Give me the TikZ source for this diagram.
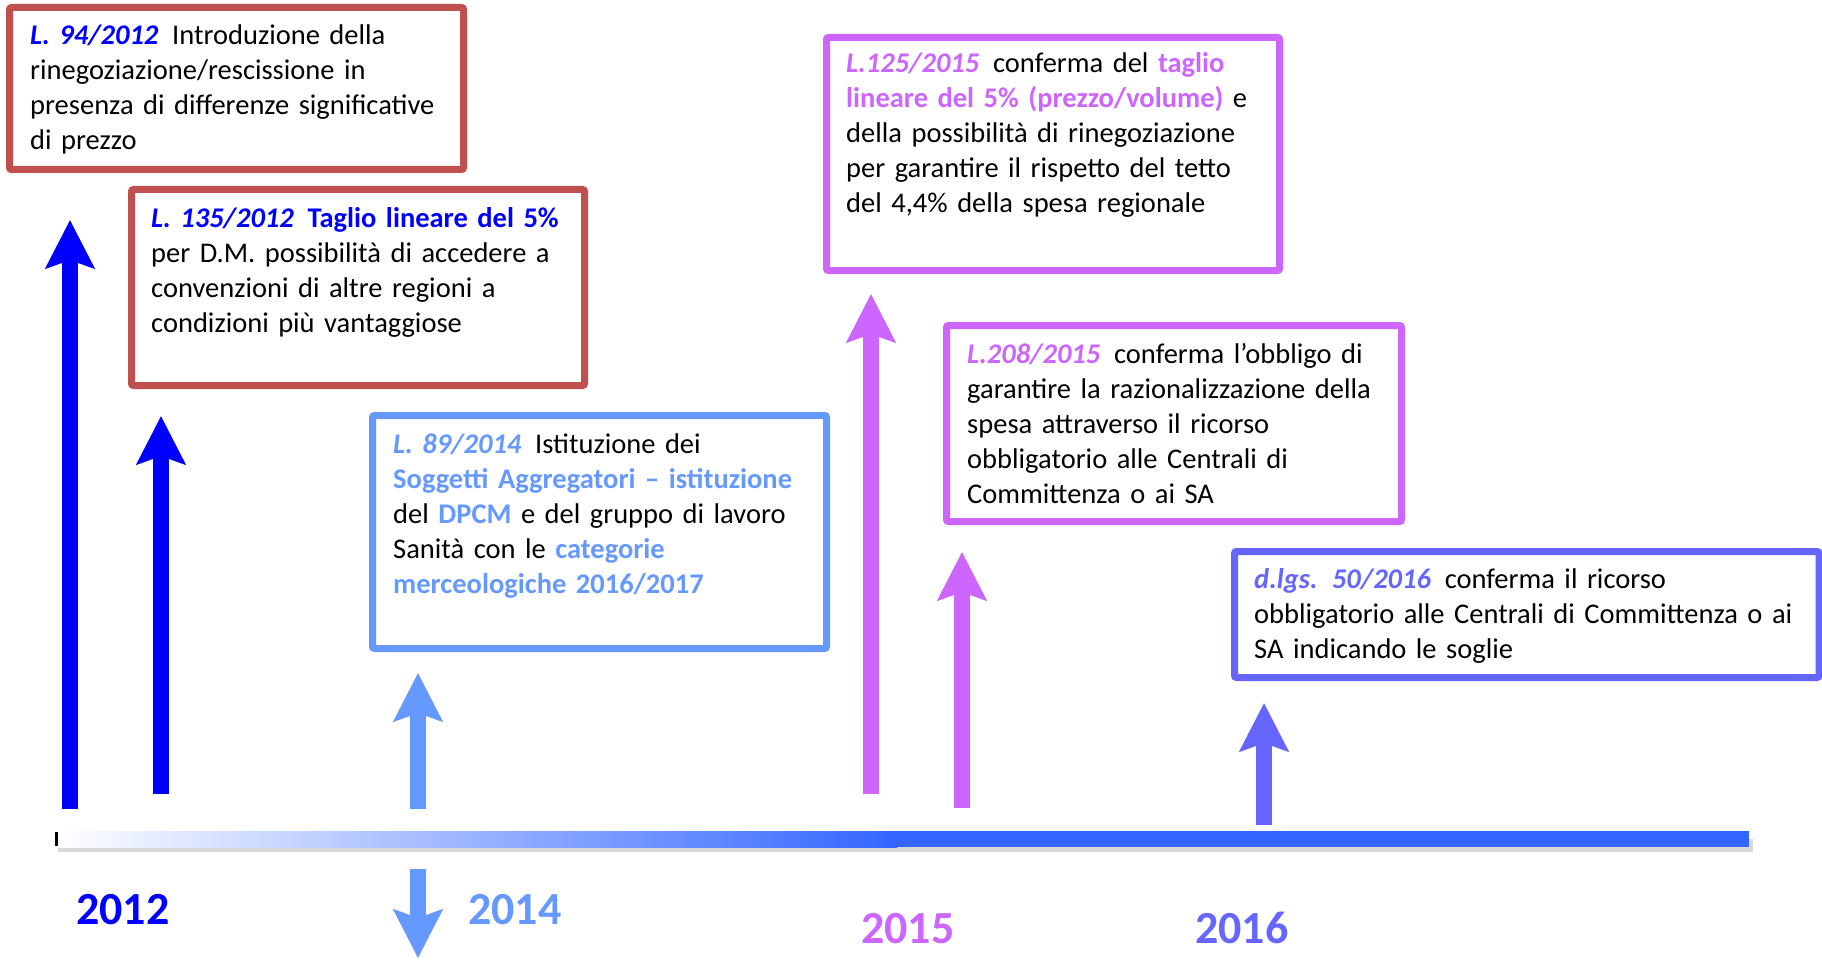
\documentclass[tikz,border=0pt]{standalone}
\usepackage{fontspec}
\setmainfont{Carlito}
\usetikzlibrary{arrows.meta}
\definecolor{boxred}{HTML}{C0504D}
\definecolor{pureblue}{HTML}{0000FF}
\definecolor{lightblue}{HTML}{6699FF}
\definecolor{cviola}{HTML}{CC66FF}
\definecolor{cblu16}{HTML}{6666FF}
\definecolor{tline}{HTML}{3366FF}
\newcommand{\hgap}{\hspace{0.15em} }
\tikzset{
  framebox/.style={line width=7pt, rounded corners=2pt},
  txt/.style={anchor=base west, inner sep=0pt, text width=700pt, align=left,
    font=\fontsize{28.5}{35}\selectfont},
  bigarrow/.style={line width=16pt, -{Stealth[width=48pt,length=48pt,inset=8pt]}},
  arrowshadow/.style={bigarrow, draw=black!14, fill=black!14, shift={(2,4)}},
  yearlbl/.style={anchor=base west, inner sep=0pt, font=\fontsize{46}{50}\selectfont\bfseries},
}
\begin{document}
\begin{tikzpicture}[x=1pt,y=-1pt]
\path[use as bounding box, fill=white] (0,0) rectangle (1822,960);

% arrow coordinates
\coordinate (a1b) at (70,809);   \coordinate (a1t) at (70,220);
\coordinate (a2b) at (161,794);  \coordinate (a2t) at (161,416);
\coordinate (a3b) at (418,809);  \coordinate (a3t) at (418,673);
\coordinate (a4b) at (871,794);  \coordinate (a4t) at (871,294);
\coordinate (a5b) at (962,808);  \coordinate (a5t) at (962,552);
\coordinate (a6b) at (1264,825); \coordinate (a6t) at (1264,703);
\coordinate (a7b) at (418,869);  \coordinate (a7t) at (418,958);

% timeline
\fill[black!15] (58,839) rectangle (1753,852);
\shade[left color=white, right color=tline] (55,831) rectangle (897,847);
\fill[tline] (893,831) rectangle (1749,847);
\fill[black] (55,832) rectangle (58,846);

% arrow shadows
\foreach \p in {a1,a2,a3,a4,a5,a6,a7}{
  \draw[arrowshadow] (\p b) -- (\p t);
}
% arrows
\draw[bigarrow, draw=pureblue, fill=pureblue] (a1b) -- (a1t);
\draw[bigarrow, draw=pureblue, fill=pureblue] (a2b) -- (a2t);
\draw[bigarrow, draw=lightblue, fill=lightblue] (a3b) -- (a3t);
\draw[bigarrow, draw=cviola, fill=cviola] (a4b) -- (a4t);
\draw[bigarrow, draw=cviola, fill=cviola] (a5b) -- (a5t);
\draw[bigarrow, draw=cblu16, fill=cblu16] (a6b) -- (a6t);
\draw[bigarrow, draw=lightblue, fill=lightblue] (a7b) -- (a7t);

% boxes
\draw[framebox, draw=boxred, fill=white] (9.5,7.5) rectangle (463.5,169.5);
\draw[framebox, draw=boxred, fill=white] (131.5,189.5) rectangle (584.5,385.5);
\draw[framebox, draw=lightblue, fill=white] (372.5,415.5) rectangle (826.5,648.5);
\draw[framebox, draw=cviola, fill=white] (826.5,37.5) rectangle (1279.5,270.5);
\draw[framebox, draw=cviola, fill=white] (946.5,325.5) rectangle (1401.5,521.5);
\draw[framebox, draw=cblu16, fill=white] (1234.5,551.5) rectangle (1819,677.5);

% texts
\node[txt] (t1) at (30,45) {{\color{pureblue}\bfseries\itshape L. 94/2012}\hgap Introduzione della\\
rinegoziazione/rescissione in\\
presenza di differenze significative\\
di prezzo};

\node[txt] (t2) at (151,227) {{\color{pureblue}\bfseries\itshape L. 135/2012}\hgap {\color{pureblue}\bfseries Taglio lineare del 5\%}\\
per D.M. possibilità di accedere a\\
convenzioni di altre regioni a\\
condizioni più vantaggiose};

\node[txt] (t3) at (393,453) {{\color{lightblue}\bfseries\itshape L. 89/2014}\hgap Istituzione dei\\
{\color{lightblue}\bfseries Soggetti Aggregatori – istituzione}\\
del {\color{lightblue}\bfseries DPCM} e del gruppo di lavoro\\
Sanità con le {\color{lightblue}\bfseries categorie}\\
{\color{lightblue}\bfseries merceologiche 2016/2017}};

\node[txt] (t4) at (846,73) {{\color{cviola}\bfseries\itshape L.125/2015}\hgap conferma del {\color{cviola}\bfseries taglio}\\
{\color{cviola}\bfseries lineare del 5\% (prezzo/volume)} e\\
della possibilità di rinegoziazione\\
per garantire il rispetto del tetto\\
del 4,4\% della spesa regionale};

\node[txt] (t5) at (967,363) {{\color{cviola}\bfseries\itshape L.208/2015}\hgap conferma l’obbligo di\\
garantire la razionalizzazione della\\
spesa attraverso il ricorso\\
obbligatorio alle Centrali di\\
Committenza o ai SA};

\node[txt] (t6) at (1254,588) {{\color{cblu16}\bfseries\itshape d.lgs. 50/2016}\hgap conferma il ricorso\\
obbligatorio alle Centrali di Committenza o ai\\
SA indicando le soglie};

% years
\node[yearlbl, text=pureblue] (y12) at (76,924) {2012};
\node[yearlbl, text=lightblue] (y14) at (468,924) {2014};
\node[yearlbl, text=cviola] (y15) at (861,943) {2015};
\node[yearlbl, text=cblu16] (y16) at (1195,943) {2016};
\end{tikzpicture}
\end{document}
